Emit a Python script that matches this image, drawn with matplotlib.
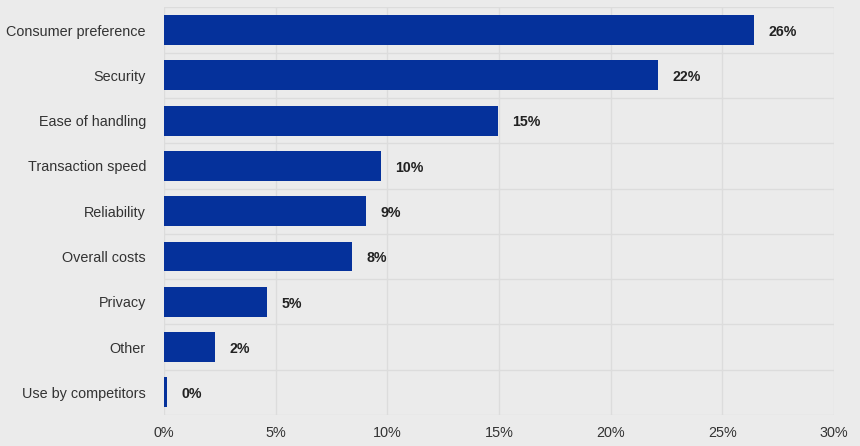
import numpy as np
import matplotlib.pyplot as plt

# ==============================
# Data
# ==============================
categories = ["Consumer preference", "Security", "Ease of handling",
              "Transaction speed", "Reliability", "Overall costs",
              "Privacy", "Other", "Use by competitors"]
values = [26.4, 22.1, 14.95, 9.7, 9.05, 8.4, 4.6, 2.3, 0.15]
value_labels = ["26%", "22%", "15%", "10%", "9%", "8%", "5%", "2%", "0%"]
x_ticks = [0, 5, 10, 15, 20, 25, 30]
x_tick_labels = ["0%", "5%", "10%", "15%", "20%", "25%", "30%"]

bg = "#ebebeb"
bar_color = "#05319b"
grid_color = "#dcdcdc"

plt.rcParams['font.family'] = ['Liberation Sans', 'DejaVu Sans']

fig = plt.figure(figsize=(8.6, 4.46), dpi=100, facecolor=bg)
ax = fig.add_axes([0.1907, 0.0695, 0.9698 - 0.1907, 0.9834 - 0.0695])
ax.set_facecolor(bg)

y = np.arange(len(categories))
ax.barh(y, values, height=0.66, color=bar_color, zorder=3)

for yi, v, lab in zip(y, values, value_labels):
    ax.text(v + 0.65, yi + 0.04, lab, va='center', ha='left', fontsize=10.2,
            fontweight='bold', color='#222222', zorder=4)

ax.set_xlim(0, 30)
ax.set_ylim(len(categories) - 0.5, -0.5)
ax.set_xticks(x_ticks)
ax.set_xticklabels(x_tick_labels, fontsize=10.4, color='#333333')
ax.set_yticks(y)
ax.set_yticklabels(categories, fontsize=10.4, color='#333333')

# grid: vertical at ticks, horizontal between categories
for xt in x_ticks:
    ax.axvline(xt, color=grid_color, lw=1, zorder=1)
for b in np.arange(-0.5, len(categories), 1):
    ax.axhline(b, color=grid_color, lw=1, zorder=1)

for s in ax.spines.values():
    s.set_visible(False)
ax.tick_params(axis='both', length=0)
ax.tick_params(axis='y', pad=13)
ax.tick_params(axis='x', pad=8)

plt.savefig("out.png", dpi=100, facecolor=bg)
plt.close()
